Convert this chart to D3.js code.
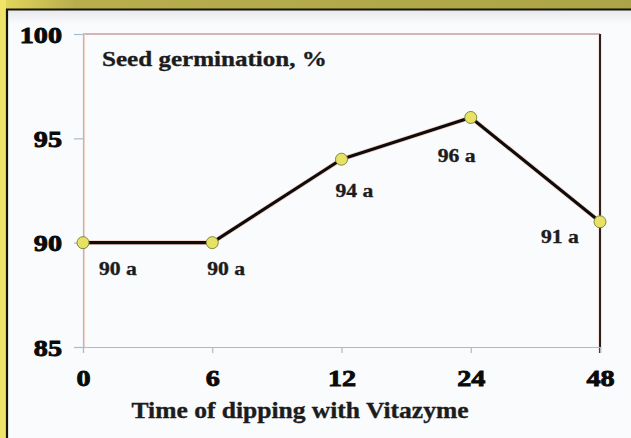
<!DOCTYPE html>
<html lang="en">
<head>
    <meta charset="UTF-8">
    <title>Seed germination</title>
    <script src="https://d3js.org/d3.v7.min.js"></script>
    <style>
        body { margin: 0; }
        text { font-family: "Liberation Serif", "Times New Roman", serif; font-weight: bold; }
    </style>
</head>
<body>
</body>
<script>
    const hours = ["0", "6", "12", "24", "48"];
    const germination = [90, 90, 94, 96, 91];
    const labels = ["90 a", "90 a", "94 a", "96 a", "91 a"];
    const yTicks = [85, 90, 95, 100];
    // label offset from its point, px
    const labelDx = [16, -5, -6, -33, -59];
    const labelDy = [32, 32, 38, 45, 21];

    const WIDTH = 631, HEIGHT = 438;
    const plotL = 83, plotR = 600, plotT = 34, plotB = 347;
    const STRETCH = 1.14; // the original type is a bit wider than Liberation Serif

    const svg = d3.select("body").append("svg").attr("width", WIDTH).attr("height", HEIGHT);

    // stretched text at (x, y)
    function wideText(x, y, str, size) {
        return svg.append("text")
            .attr("transform", `translate(${x},${y}) scale(${STRETCH},1)`)
            .attr("font-size", size).attr("fill", "#1c1c1c")
            .attr("stroke", "#1c1c1c").attr("stroke-width", 0.35)
            .text(str);
    }

    // frame
    const defs = svg.append("defs");
    const topGrad = defs.append("linearGradient").attr("id", "topStrip").attr("x1", 0).attr("x2", 1);
    topGrad.append("stop").attr("offset", "0%").attr("stop-color", "#e4d85c");
    topGrad.append("stop").attr("offset", "12%").attr("stop-color", "#b8ae4c");
    topGrad.append("stop").attr("offset", "100%").attr("stop-color", "#aca446");
    const shade = defs.append("linearGradient").attr("id", "shade").attr("x1", 0).attr("x2", 0).attr("y1", 0).attr("y2", 1);
    shade.append("stop").attr("offset", "0%").attr("stop-color", "#e6e8ec");
    shade.append("stop").attr("offset", "100%").attr("stop-color", "#fafbfd");

    svg.append("rect").attr("width", WIDTH).attr("height", HEIGHT).attr("fill", "#fafbfd");
    svg.append("rect").attr("x", 8).attr("y", 10).attr("width", WIDTH - 8).attr("height", 14).attr("fill", "url(#shade)");
    svg.append("rect").attr("width", WIDTH).attr("height", 9).attr("fill", "url(#topStrip)");
    svg.append("rect").attr("width", 6).attr("height", HEIGHT).attr("fill", "#f0e468");
    svg.append("path").attr("d", `M7,${HEIGHT}V9.5H${WIDTH}`).attr("fill", "none").attr("stroke", "#141408").attr("stroke-width", 2.2);

    const x = d3.scalePoint().domain(hours).range([plotL, plotR]);
    const y = d3.scaleLinear().domain([85, 100]).range([plotB, plotT]);

    // plot border (top / right)
    svg.append("line").attr("x1", plotL).attr("x2", plotR).attr("y1", plotT).attr("y2", plotT)
        .attr("stroke", "#f2c4bc").attr("stroke-width", 2);
    svg.append("line").attr("x1", plotL).attr("x2", plotR).attr("y1", plotT).attr("y2", plotT)
        .attr("stroke", "#9aa0a8").attr("stroke-width", 0.7);
    svg.append("line").attr("x1", plotR).attr("x2", plotR).attr("y1", plotT).attr("y2", plotB + 6)
        .attr("stroke", "#f6ccc2").attr("stroke-width", 3);
    svg.append("line").attr("x1", plotR).attr("x2", plotR).attr("y1", plotT).attr("y2", plotB + 6)
        .attr("stroke", "#111").attr("stroke-width", 1.8);
    svg.append("line").attr("x1", plotL + 1.5).attr("x2", plotL + 1.5).attr("y1", plotT).attr("y2", plotB)
        .attr("stroke", "#f4d4cc").attr("stroke-width", 1);

    // axes
    const yAxis = svg.append("g").attr("transform", `translate(${plotL},0)`)
        .call(d3.axisLeft(y).tickValues(yTicks).tickSize(9).tickPadding(12));
    const xAxis = svg.append("g").attr("transform", `translate(0,${plotB})`)
        .call(d3.axisBottom(x).tickSize(6).tickPadding(16));
    [yAxis, xAxis].forEach(g => {
        g.select(".domain").attr("stroke", "#a8bccc").attr("stroke-width", 1.2);
        g.selectAll(".tick line").attr("stroke", "#a8bccc").attr("stroke-width", 1.2);
        g.selectAll(".tick text").attr("font-size", 24).attr("fill", "#0a0a0a")
            .attr("stroke", "#0a0a0a").attr("stroke-width", 0.9)
            .attr("font-family", "Liberation Serif").attr("font-weight", "bold")
            .attr("transform", `scale(${STRETCH * 1.03},1)`);
    });
    xAxis.selectAll(".tick text").attr("dy", "0.72em");
    yAxis.selectAll(".tick text").attr("dy", "0.34em").attr("x", -21 / (STRETCH * 1.03));

    // line and points
    const pts = hours.map((h, i) => ({h, v: germination[i], lab: labels[i], dx: labelDx[i], dy: labelDy[i]}));
    const line = d3.line().x(d => x(d.h)).y(d => y(d.v));
    svg.append("path").datum(pts).attr("d", line).attr("fill", "none")
        .attr("stroke", "#f4d0c6").attr("stroke-width", 4.6).attr("stroke-linejoin", "round");
    svg.append("path").datum(pts).attr("d", line).attr("fill", "none")
        .attr("stroke", "#0c0c0c").attr("stroke-width", 3.1).attr("stroke-linejoin", "round");

    svg.selectAll("circle.pt").data(pts).join("circle").attr("class", "pt")
        .attr("cx", d => x(d.h)).attr("cy", d => y(d.v)).attr("r", 6)
        .attr("fill", "#e8e264").attr("stroke", "#7f8a3c").attr("stroke-width", 1);

    pts.forEach(d => wideText(x(d.h) + d.dx, y(d.v) + d.dy, d.lab, 19));

    // titles
    wideText(102, 66, "Seed germination, %", 22);
    wideText(300, 418, "Time of dipping with Vitazyme", 22.4).attr("text-anchor", "middle");
</script>
</html>
